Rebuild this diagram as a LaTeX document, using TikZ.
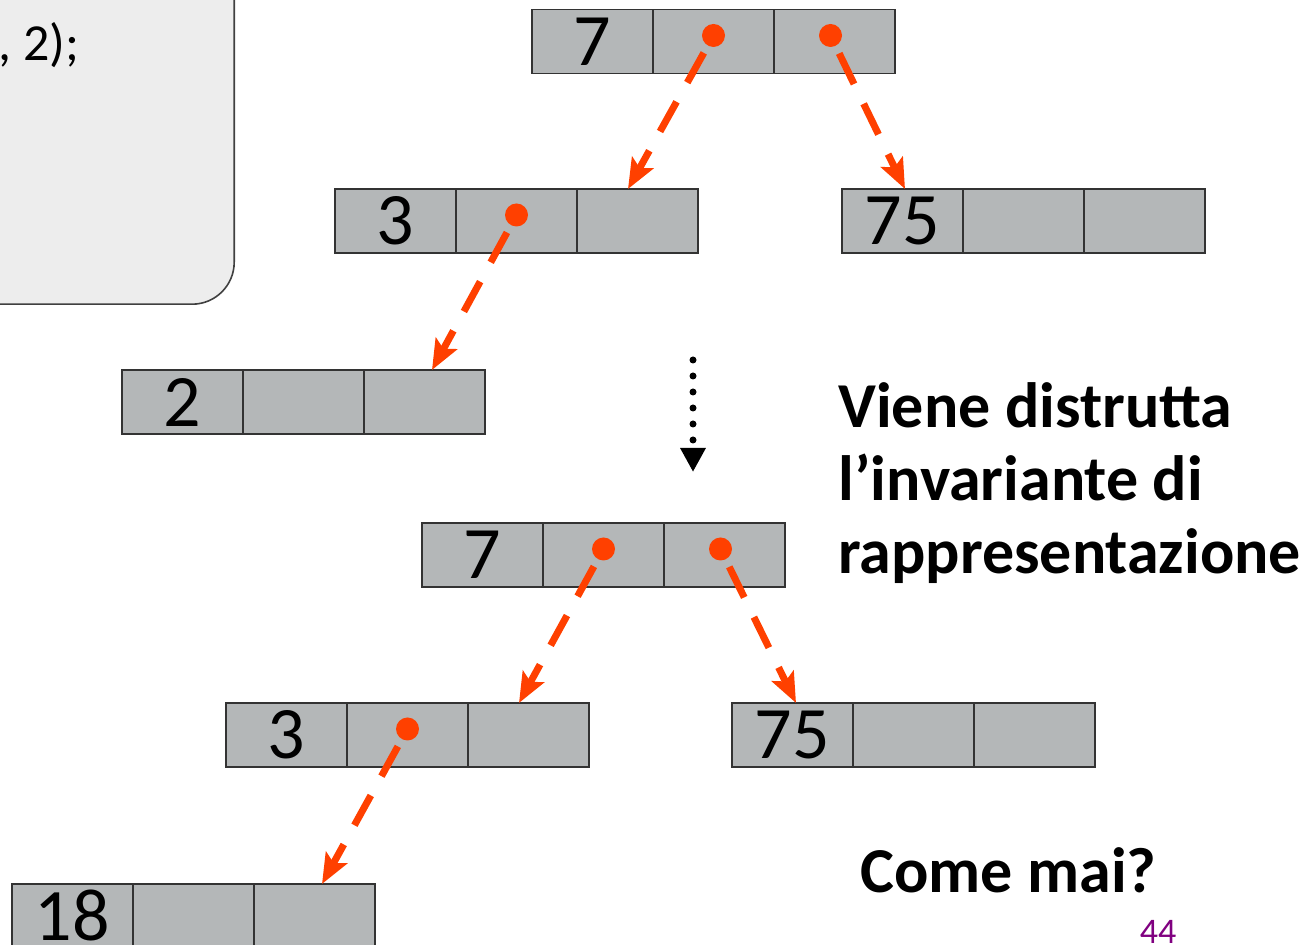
\documentclass[tikz,border=0pt]{standalone}
\usepackage{fontspec}
\setmainfont{Carlito}
\usetikzlibrary{arrows.meta, positioning, math}
\definecolor{ptrorange}{RGB}{255, 64, 0}
\definecolor{cellgray}{RGB}{180, 183, 184}
\definecolor{codegray}{RGB}{237, 237, 237}
\definecolor{pagepurple}{RGB}{128, 0, 128}

\tikzset{
  cell/.style={draw=black!80, line width=0.8pt, fill=cellgray, minimum width=60.5pt,
    minimum height=32pt, inner sep=0pt, outer sep=0pt, font=\fontsize{37}{37}\selectfont},
  dot/.style={circle, fill=ptrorange, minimum size=11.5pt, inner sep=0pt},
  ptr/.style={draw=ptrorange, line width=3.5pt, dash pattern=on 17pt off 11pt,
    shorten <=4pt, -{Stealth[length=15pt, width=12pt, inset=3pt, fill=ptrorange]}},
  big/.style={font=\fontsize{32}{32}\selectfont\bfseries, inner sep=0pt, anchor=base west}
}

\begin{document}
\begin{tikzpicture}[x=0.5pt, y=-0.5pt]
\useasboundingbox (0,0) rectangle (1314,945);
\clip (0,0) rectangle (1314,945);

% codice
\node[draw=black!75, line width=0.8pt, fill=codegray, rounded corners=21pt,
  minimum width=150pt, minimum height=180pt, anchor=south east] (code) at (235,305) {};
\node[anchor=base west, inner sep=0pt, font=\fontsize{26}{26}\selectfont] (codetxt) at (-2,61) {, 2);};

% record
\foreach \r/\x/\y/\v in {ra/592.5/41.5/7, rb/395.5/221/3, rc/902.5/221/75, rd/182.5/402/2,
    re/482.5/555/7, rf/286.5/735/3, rg/792.5/735/75, rh/72.5/916/18}{
  \node[cell] (\r1) at (\x,\y) {\v};
  \node[cell, right=0pt of \r1] (\r2) {};
  \node[cell, right=0pt of \r2] (\r3) {};
}

% puntatori
\node[dot, yshift=3pt] (pa2) at (ra2) {};
\node[dot, yshift=3pt, xshift=-2pt] (pa3) at (ra3) {};
\node[dot, yshift=3pt] (pb2) at (rb2) {};
\node[dot, yshift=3pt] (pe2) at (re2) {};
\node[dot, yshift=3pt, xshift=-2pt] (pe3) at (re3) {};
\node[dot, yshift=3pt] (pf2) at (rf2) {};

\draw[ptr] (pa2) -- ([xshift=25.5pt]rb3.north west);
\draw[ptr] (pa3) -- ([xshift=31.5pt]rc1.north west);
\draw[ptr] (pb2) -- ([xshift=34pt]rd3.north west);
\draw[ptr] (pe2) -- ([xshift=25.5pt]rf3.north west);
\draw[ptr] (pe3) -- ([xshift=32pt]rg1.north west);
\draw[ptr] (pf2) -- ([xshift=34pt]rh3.north west);

% freccia tratteggiata
\coordinate (dtop) at (693,360);
\coordinate (dbot) at (693,472);
\draw[line width=3.5pt, line cap=round, dash pattern=on 0pt off 8pt,
  -{Triangle[length=12pt, width=12pt, line cap=butt]}] (dtop) -- (dbot);

% testo
\node[big] (inv1) at (838,428) {Viene distrutta};
\node[big] (inv2) at (838,501) {l’invariante di};
\node[big] (inv3) at (838,574) {rappresentazione};
\node[anchor=base west, inner sep=0pt, font=\fontsize{32}{32}\selectfont\bfseries] (why) at (860,893) {Come mai?};
\node[anchor=base, inner sep=0pt, text=pagepurple, font=\fontsize{18}{18}\selectfont] (pg) at (1158,944) {44};

\end{tikzpicture}
\end{document}
